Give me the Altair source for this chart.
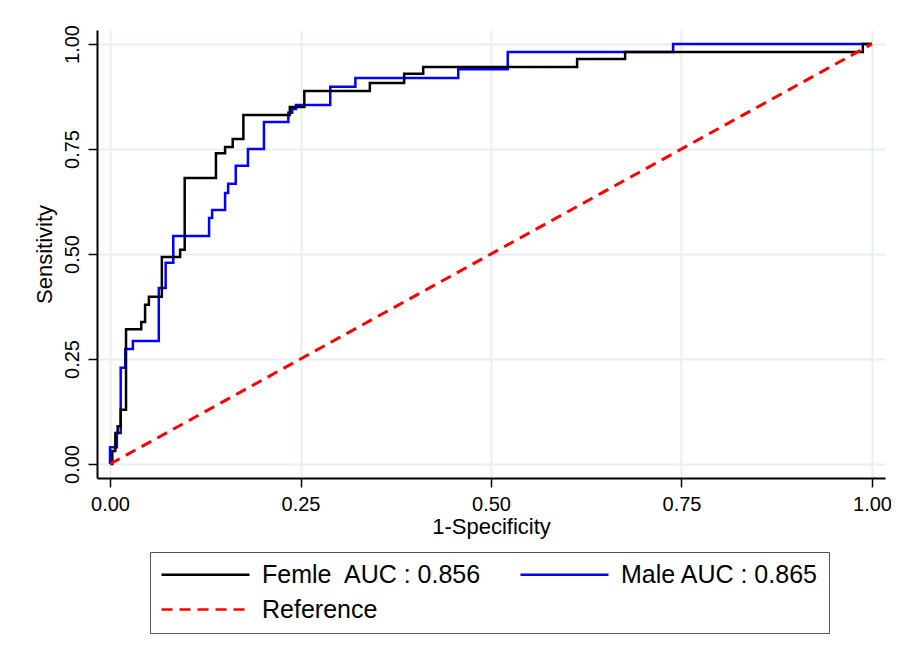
import altair as alt
import pandas as pd

# ---- data ----
female_fpr = [0.000, 0.003, 0.003, 0.007, 0.007, 0.010, 0.010, 0.014, 0.014, 0.021,
              0.021, 0.041, 0.041, 0.046, 0.046, 0.051, 0.051, 0.068, 0.068, 0.092,
              0.092, 0.098, 0.098, 0.139, 0.139, 0.151, 0.151, 0.161, 0.161, 0.175,
              0.175, 0.236, 0.236, 0.255, 0.255, 0.341, 0.341, 0.386, 0.386, 0.411,
              0.411, 0.613, 0.613, 0.676, 0.676, 0.988, 0.988, 1.000]
female_tpr = [0.000, 0.000, 0.031, 0.031, 0.074, 0.074, 0.090, 0.090, 0.129, 0.129,
              0.321, 0.321, 0.338, 0.338, 0.379, 0.379, 0.398, 0.398, 0.493, 0.493,
              0.510, 0.510, 0.681, 0.681, 0.740, 0.740, 0.755, 0.755, 0.774, 0.774,
              0.831, 0.831, 0.850, 0.850, 0.888, 0.888, 0.907, 0.907, 0.929, 0.929,
              0.945, 0.945, 0.964, 0.964, 0.981, 0.981, 1.000, 1.000]

male_fpr = [0.000, 0.000, 0.009, 0.009, 0.014, 0.014, 0.020, 0.020, 0.030, 0.030,
            0.064, 0.064, 0.073, 0.073, 0.083, 0.083, 0.130, 0.130, 0.134, 0.134,
            0.151, 0.151, 0.155, 0.155, 0.165, 0.165, 0.181, 0.181, 0.202, 0.202,
            0.234, 0.234, 0.239, 0.239, 0.244, 0.244, 0.289, 0.289, 0.322, 0.322,
            0.457, 0.457, 0.522, 0.522, 0.739, 0.739, 1.000]
male_tpr = [0.000, 0.040, 0.040, 0.074, 0.074, 0.229, 0.229, 0.274, 0.274, 0.293,
            0.293, 0.419, 0.419, 0.479, 0.479, 0.543, 0.543, 0.586, 0.586, 0.605,
            0.605, 0.645, 0.645, 0.667, 0.667, 0.710, 0.710, 0.750, 0.750, 0.814,
            0.814, 0.836, 0.836, 0.845, 0.845, 0.855, 0.855, 0.898, 0.898, 0.919,
            0.919, 0.940, 0.940, 0.981, 0.981, 1.000, 1.000]

ref_fpr = [0.0, 1.0]
ref_tpr = [0.0, 1.0]

series_names = ["Femle\u00a0 AUC : 0.856", "Male AUC : 0.865", "Reference"]
series_colors = ["#000000", "#0000ff", "#ff0000"]
series_dashes = [[1, 0], [1, 0], [11, 7]]
tick_values = [0.0, 0.25, 0.5, 0.75, 1.0]
x_title = "1-Specificity"
y_title = "Sensitivity"


def frame(fpr, tpr, name):
    return pd.DataFrame({"fpr": fpr, "tpr": tpr, "series": name,
                         "idx": list(range(len(fpr)))})


df_f = frame(female_fpr, female_tpr, series_names[0])
df_m = frame(male_fpr, male_tpr, series_names[1])
df_r = frame(ref_fpr, ref_tpr, series_names[2])

FONT = "Liberation Sans"

x_axis = alt.Axis(values=tick_values, format=".2f", grid=True, gridColor="#e8eff2",
                  gridWidth=2, domainColor="#000000", domainWidth=2,
                  tickColor="#000000", tickWidth=1.5, tickSize=9, labelFlush=False,
                  labelFontSize=20, labelColor="#000000", labelPadding=7,
                  titleFontSize=22, titleFontWeight="normal", titleColor="#000000",
                  titlePadding=2)
y_axis = alt.Axis(values=tick_values, format=".2f", grid=True, gridColor="#e8eff2",
                  gridWidth=2, domainColor="#000000", domainWidth=2,
                  tickColor="#000000", tickWidth=1.5, tickSize=9, labelFlush=False,
                  labelAngle=270, labelAlign="center", labelBaseline="bottom",
                  labelFontSize=20, labelColor="#000000", labelPadding=6,
                  titleFontSize=22, titleFontWeight="normal", titleColor="#000000",
                  titlePadding=6)

x_scale = alt.Scale(domain=[-0.0171, 1.0171], nice=False, zero=False)
y_scale = alt.Scale(domain=[-0.0333, 1.0333], nice=False, zero=False)

legend = alt.Legend(orient="none", legendX=53, legendY=522, columns=2,
                    direction="horizontal",
                    symbolType="M-1,0H7", symbolSize=484, symbolStrokeWidth=2.5,
                    labelOffset=77, labelFontSize=25, labelColor="#000000",
                    labelLimit=400, padding=10, rowPadding=9, columnPadding=33,
                    strokeColor="#555555", fillColor="#ffffff")

color_enc = alt.Color("series:N", scale=alt.Scale(domain=series_names, range=series_colors),
                      legend=legend, title=None)
dash_enc = alt.StrokeDash("series:N", scale=alt.Scale(domain=series_names, range=series_dashes),
                          legend=legend, title=None)


def layer(df, width):
    return alt.Chart(df).mark_line(strokeWidth=width, interpolate="linear").encode(
        x=alt.X("fpr:Q", scale=x_scale, axis=x_axis, title=x_title),
        y=alt.Y("tpr:Q", scale=y_scale, axis=y_axis, title=y_title),
        color=color_enc,
        strokeDash=dash_enc,
        order=alt.Order("idx:Q"),
    )


chart = alt.layer(layer(df_m, 2.5), layer(df_f, 2.5), layer(df_r, 3)).properties(
    width=788, height=448,
    autosize=alt.AutoSizeParams(type="none"),
    padding={"left": 89, "top": 22, "right": 6, "bottom": 171},
).configure(font=FONT).configure_view(stroke="transparent")

chart.save("out.html", embed_options={"renderer": "svg", "actions": False})
